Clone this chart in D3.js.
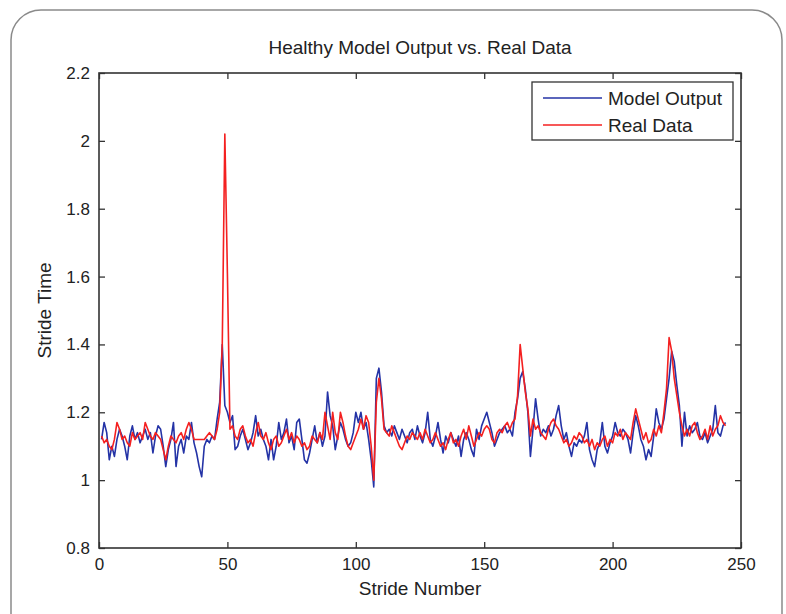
<!DOCTYPE html>
<html>
<head>
<meta charset="utf-8">
<script src="https://cdn.jsdelivr.net/npm/d3@7"></script>
<style>
body { margin: 0; background: #fff; }
svg { display: block; font-family: "Liberation Sans", Arial, sans-serif; }
</style>
</head>
<body>
<svg id="chart" width="786" height="614"></svg>
<script>
// stride time per stride (strides 1..244)
var modelOutput = [
	1.12, 1.17, 1.14, 1.06, 1.10, 1.07, 1.12, 1.15, 1.13, 1.10,
	1.06, 1.13, 1.16, 1.12, 1.14, 1.11, 1.13, 1.15, 1.12, 1.14,
	1.08, 1.13, 1.16, 1.15, 1.10, 1.04, 1.09, 1.12, 1.17, 1.04,
	1.10, 1.12, 1.08, 1.13, 1.12, 1.17, 1.11, 1.08, 1.04, 1.01,
	1.10, 1.12, 1.11, 1.13, 1.12, 1.18, 1.23, 1.40, 1.22, 1.20,
	1.17, 1.19, 1.09, 1.10, 1.13, 1.15, 1.12, 1.09, 1.11, 1.14,
	1.19, 1.13, 1.15, 1.12, 1.10, 1.06, 1.12, 1.06, 1.10, 1.17,
	1.12, 1.14, 1.18, 1.11, 1.13, 1.09, 1.17, 1.18, 1.12, 1.06,
	1.05, 1.08, 1.12, 1.16, 1.11, 1.14, 1.10, 1.13, 1.26, 1.19,
	1.16, 1.09, 1.13, 1.17, 1.15, 1.12, 1.10, 1.11, 1.14, 1.20,
	1.17, 1.20, 1.15, 1.17, 1.12, 1.06, 0.98, 1.30, 1.33, 1.26,
	1.16, 1.14, 1.15, 1.13, 1.16, 1.14, 1.12, 1.15, 1.13, 1.11,
	1.14, 1.15, 1.12, 1.16, 1.13, 1.11, 1.14, 1.20, 1.12, 1.10,
	1.13, 1.17, 1.12, 1.08, 1.13, 1.11, 1.14, 1.12, 1.10, 1.13,
	1.07, 1.12, 1.14, 1.12, 1.09, 1.07, 1.15, 1.12, 1.16, 1.18,
	1.20, 1.17, 1.14, 1.10, 1.12, 1.14, 1.15, 1.16, 1.14, 1.15,
	1.13, 1.20, 1.24, 1.30, 1.32, 1.27, 1.20, 1.07, 1.15, 1.24,
	1.18, 1.13, 1.15, 1.14, 1.16, 1.13, 1.15, 1.19, 1.22, 1.16,
	1.12, 1.14, 1.10, 1.07, 1.11, 1.10, 1.12, 1.11, 1.13, 1.17,
	1.09, 1.06, 1.04, 1.09, 1.11, 1.17, 1.10, 1.08, 1.11, 1.13,
	1.17, 1.14, 1.13, 1.15, 1.14, 1.12, 1.08, 1.14, 1.19, 1.16,
	1.12, 1.10, 1.06, 1.09, 1.07, 1.13, 1.21, 1.17, 1.15, 1.18,
	1.24, 1.30, 1.38, 1.35, 1.28, 1.22, 1.10, 1.20, 1.13, 1.16,
	1.14, 1.15, 1.17, 1.13, 1.12, 1.14, 1.11, 1.13, 1.15, 1.22,
	1.14, 1.13, 1.16, 1.17
];

var realData = [
	1.13, 1.11, 1.12, 1.10, 1.09, 1.12, 1.17, 1.15, 1.12, 1.13,
	1.11, 1.10, 1.14, 1.12, 1.13, 1.14, 1.12, 1.17, 1.15, 1.13,
	1.12, 1.14, 1.13, 1.12, 1.09, 1.06, 1.10, 1.13, 1.12, 1.11,
	1.13, 1.14, 1.12, 1.15, 1.17, 1.15, 1.12, 1.12, 1.12, 1.12,
	1.12, 1.13, 1.14, 1.13, 1.12, 1.15, 1.20, 1.40, 2.02, 1.61,
	1.15, 1.16, 1.13, 1.12, 1.15, 1.16, 1.13, 1.11, 1.12, 1.10,
	1.14, 1.17, 1.13, 1.12, 1.14, 1.11, 1.09, 1.12, 1.13, 1.10,
	1.11, 1.13, 1.15, 1.12, 1.14, 1.11, 1.13, 1.12, 1.10, 1.11,
	1.09, 1.10, 1.13, 1.12, 1.11, 1.14, 1.12, 1.20, 1.16, 1.12,
	1.20, 1.14, 1.12, 1.20, 1.17, 1.13, 1.10, 1.09, 1.11, 1.13,
	1.15, 1.18, 1.15, 1.19, 1.17, 1.10, 1.00, 1.23, 1.30, 1.24,
	1.15, 1.14, 1.13, 1.16, 1.14, 1.12, 1.10, 1.09, 1.11, 1.13,
	1.12, 1.14, 1.13, 1.12, 1.14, 1.12, 1.15, 1.13, 1.11, 1.12,
	1.14, 1.12, 1.10, 1.11, 1.09, 1.12, 1.14, 1.11, 1.12, 1.10,
	1.13, 1.15, 1.12, 1.16, 1.13, 1.10, 1.12, 1.14, 1.13, 1.15,
	1.16, 1.15, 1.12, 1.11, 1.14, 1.15, 1.14, 1.16, 1.17, 1.15,
	1.17, 1.18, 1.25, 1.40, 1.33, 1.26, 1.21, 1.13, 1.18, 1.15,
	1.16, 1.14, 1.13, 1.12, 1.15, 1.17, 1.18, 1.16, 1.15, 1.13,
	1.11, 1.12, 1.10, 1.11, 1.13, 1.12, 1.14, 1.13, 1.11, 1.12,
	1.10, 1.12, 1.09, 1.11, 1.10, 1.12, 1.13, 1.10, 1.12, 1.11,
	1.14, 1.13, 1.15, 1.12, 1.14, 1.13, 1.12, 1.17, 1.21, 1.18,
	1.15, 1.12, 1.14, 1.11, 1.12, 1.15, 1.13, 1.16, 1.14, 1.20,
	1.27, 1.42, 1.38, 1.30, 1.25, 1.20, 1.16, 1.13, 1.15, 1.13,
	1.16, 1.17, 1.14, 1.12, 1.13, 1.15, 1.12, 1.16, 1.13, 1.15,
	1.16, 1.19, 1.17, 1.16
];

var xTicks = [0, 50, 100, 150, 200, 250];
var yTicks = [0.8, 1, 1.2, 1.4, 1.6, 1.8, 2, 2.2];
var seriesNames = ["Model Output", "Real Data"];
var seriesColors = ["#2433a6", "#f42020"];

var svg = d3.select("#chart");
var box = {left: 99, top: 73, right: 741, bottom: 548};

// rounded frame round the figure
svg.append("rect")
	.attr("x", 11).attr("y", 10)
	.attr("width", 771).attr("height", 640)
	.attr("rx", 30)
	.attr("fill", "none")
	.attr("stroke", "#8a8a8a")
	.attr("stroke-width", 1.5);

var x = d3.scaleLinear().domain([0, 250]).range([box.left, box.right]);
var y = d3.scaleLinear().domain([0.8, 2.2]).range([box.bottom, box.top]);

var plot = svg.append("g");

var line = d3.line()
	.x(function(d, i) { return x(i + 1); })
	.y(function(d) { return y(d); });

plot.selectAll("path.series")
	.data([modelOutput, realData])
	.enter()
	.append("path")
	.classed("series", true)
	.attr("d", line)
	.attr("fill", "none")
	.attr("stroke", function(d, i) { return seriesColors[i]; })
	.attr("stroke-width", 1.6)
	.attr("stroke-linejoin", "round");

// axes: ticks inside on all four sides, matlab style
var tickLen = 6;
var drawAxis = function(axis, transform) {
	var g = svg.append("g").attr("transform", transform).call(axis);
	g.select(".domain").remove();
	g.selectAll("line").attr("stroke", "#333").attr("stroke-width", 1.3);
	g.selectAll("text")
		.attr("fill", "#222")
		.style("font-size", "17px")
		.style("font-family", "'Liberation Sans', Arial, sans-serif");
	return g;
};

drawAxis(d3.axisBottom(x).tickValues(xTicks).tickSizeInner(-tickLen).tickSizeOuter(0).tickPadding(10)
	.tickFormat(d3.format("d")), "translate(0," + box.bottom + ")");
drawAxis(d3.axisTop(x).tickValues(xTicks).tickSizeInner(-tickLen).tickSizeOuter(0)
	.tickFormat(""), "translate(0," + box.top + ")");
drawAxis(d3.axisLeft(y).tickValues(yTicks).tickSizeInner(-tickLen).tickSizeOuter(0).tickPadding(9)
	.tickFormat(function(d) { return d3.format("")(+d.toFixed(1)); }), "translate(" + box.left + ",0)");
drawAxis(d3.axisRight(y).tickValues(yTicks).tickSizeInner(-tickLen).tickSizeOuter(0)
	.tickFormat(""), "translate(" + box.right + ",0)");

svg.append("rect")
	.attr("x", box.left).attr("y", box.top)
	.attr("width", box.right - box.left).attr("height", box.bottom - box.top)
	.attr("fill", "none")
	.attr("stroke", "#333")
	.attr("stroke-width", 1.6);

svg.append("text")
	.attr("x", (box.left + box.right) / 2).attr("y", 54)
	.attr("text-anchor", "middle")
	.style("font-size", "19px")
	.attr("fill", "#222")
	.text("Healthy Model Output vs. Real Data");

svg.append("text")
	.attr("x", (box.left + box.right) / 2).attr("y", 595)
	.attr("text-anchor", "middle")
	.style("font-size", "19px")
	.attr("fill", "#222")
	.text("Stride Number");

svg.append("text")
	.attr("transform", "translate(51," + ((box.top + box.bottom) / 2) + ") rotate(-90)")
	.attr("text-anchor", "middle")
	.style("font-size", "19px")
	.attr("fill", "#222")
	.text("Stride Time");

// legend
var legend = svg.append("g").attr("transform", "translate(532,82)");
legend.append("rect")
	.attr("width", 201).attr("height", 58)
	.attr("fill", "#fff")
	.attr("stroke", "#333")
	.attr("stroke-width", 1.3);
var items = legend.selectAll("g.item")
	.data(seriesNames)
	.enter()
	.append("g")
	.classed("item", true)
	.attr("transform", function(d, i) { return "translate(0," + (16 + i * 27) + ")"; });
items.append("line")
	.attr("x1", 11).attr("x2", 70)
	.attr("stroke", function(d, i) { return seriesColors[i]; })
	.attr("stroke-width", 1.6);
items.append("text")
	.attr("x", 76).attr("y", 7)
	.style("font-size", "19px")
	.attr("fill", "#222")
	.text(function(d) { return d; });
</script>
</body>
</html>
